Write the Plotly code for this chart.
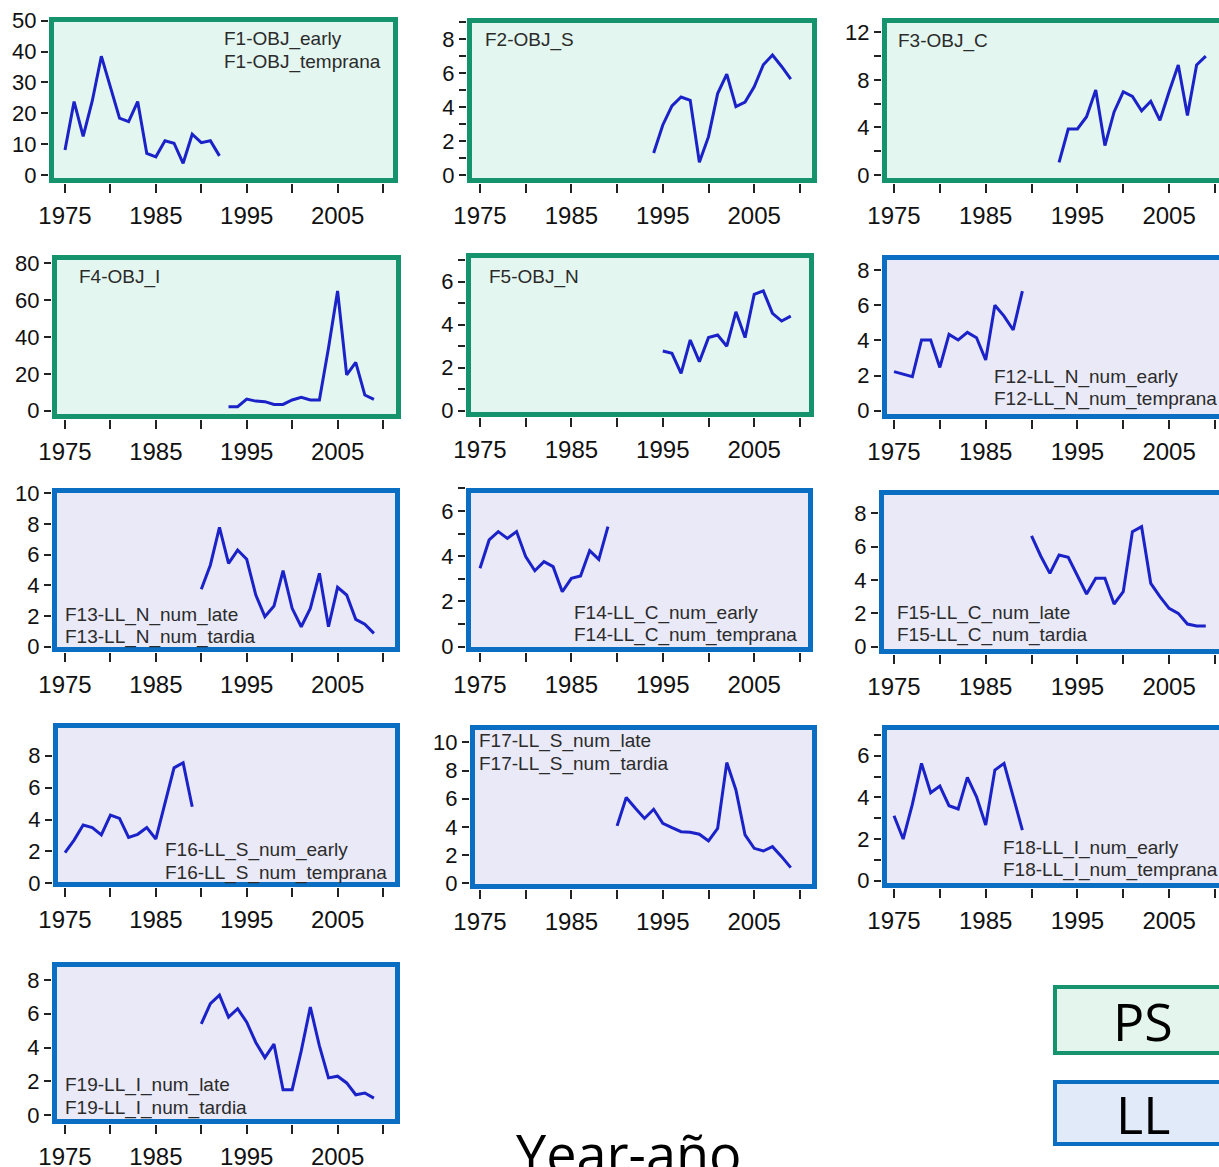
import plotly.graph_objects as go

W, H = 1219, 1167

# ---- data -------------------------------------------------------------
years_1975_1989 = [1975, 1976, 1977, 1978, 1979, 1980, 1981, 1982, 1983, 1984,
                   1985, 1986, 1987, 1988, 1989]
years_1975_1992 = [1975, 1976, 1977, 1978, 1979, 1980, 1981, 1982, 1983, 1984,
                   1985, 1986, 1987, 1988, 1989, 1990, 1991, 1992]
years_1990_2009 = [1990, 1991, 1992, 1993, 1994, 1995, 1996, 1997, 1998, 1999,
                   2000, 2001, 2002, 2003, 2004, 2005, 2006, 2007, 2008, 2009]
years_1993_2009 = [1993, 1994, 1995, 1996, 1997, 1998, 1999, 2000, 2001, 2002,
                   2003, 2004, 2005, 2006, 2007, 2008, 2009]
years_1994_2009 = [1994, 1995, 1996, 1997, 1998, 1999, 2000, 2001, 2002, 2003,
                   2004, 2005, 2006, 2007, 2008, 2009]
years_1995_2009 = [1995, 1996, 1997, 1998, 1999, 2000, 2001, 2002, 2003, 2004,
                   2005, 2006, 2007, 2008, 2009]

f1_obj_early = [8.1, 23.8, 12.5, 24.0, 38.5, 28.0, 18.4, 17.3, 23.8, 7.0,
                5.9, 11.1, 10.3, 3.8, 13.2, 10.5, 11.1, 6.2]
f2_obj_s = [1.3, 2.95, 4.07, 4.6, 4.4, 0.75, 2.26, 4.8, 5.95, 4.03,
            4.3, 5.2, 6.5, 7.07, 6.4, 5.65]
f3_obj_c = [1.07, 3.87, 3.87, 4.9, 7.15, 2.47, 5.3, 7.0, 6.6, 5.4,
            6.2, 4.6, 7.0, 9.25, 5.0, 9.25, 10.0]
f4_obj_i = [2.2, 2.2, 6.3, 5.2, 4.9, 3.4, 3.4, 5.8, 7.2, 5.8,
            5.8, 34.0, 65.0, 19.4, 26.2, 8.5, 6.2]
f5_obj_n = [2.78, 2.67, 1.74, 3.29, 2.28, 3.4, 3.52, 3.0, 4.6, 3.4,
            5.41, 5.57, 4.53, 4.17, 4.4]
f12_ll_n_early = [2.22, 2.08, 1.93, 4.02, 4.02, 2.46, 4.34, 4.02, 4.45, 4.15,
                  2.88, 6.0, 5.38, 4.59, 6.8]
f13_ll_n_late = [3.74, 5.33, 7.78, 5.43, 6.3, 5.7, 3.37, 1.96, 2.65, 4.96,
                 2.5, 1.3, 2.5, 4.78, 1.3, 3.87, 3.37, 1.78, 1.46, 0.87]
f14_ll_c_early = [3.47, 4.72, 5.09, 4.79, 5.09, 3.98, 3.36, 3.76, 3.54, 2.43,
                  3.02, 3.13, 4.25, 3.86, 5.31]
f15_ll_c_late = [6.64, 5.44, 4.4, 5.5, 5.36, 4.3, 3.16, 4.1, 4.1, 2.56,
                 3.3, 6.9, 7.2, 3.8, 3.0, 2.3, 2.0, 1.36, 1.24, 1.24]
f16_ll_s_early = [1.92, 2.71, 3.65, 3.49, 3.03, 4.28, 4.07, 2.88, 3.07, 3.49,
                  2.78, 5.11, 7.24, 7.56, 4.8]
f17_ll_s_late = [4.07, 6.08, 5.32, 4.6, 5.25, 4.26, 3.95, 3.66, 3.62, 3.48,
                 3.0, 3.9, 8.56, 6.62, 3.43, 2.48, 2.29, 2.6, 1.89, 1.11]
f18_ll_i_early = [3.12, 2.0, 3.66, 5.63, 4.22, 4.54, 3.6, 3.44, 4.96, 4.03,
                  2.67, 5.31, 5.63, 4.03, 2.43]
f19_ll_i_late = [5.4, 6.6, 7.1, 5.8, 6.3, 5.5, 4.3, 3.4, 4.2, 1.5,
                 1.5, 3.8, 6.4, 4.1, 2.2, 2.3, 1.9, 1.2, 1.3, 1.0]

x_tick_labels = ["1975", "1985", "1995", "2005"]
group_labels = ["PS", "LL"]
axis_title = "Year-año"

# ---- styling ----------------------------------------------------------
LINE = "#1a22c8"
STYLE = {
    "PS": dict(fill="#e3f6ef", border="#14936c"),
    "LL": dict(fill="#e9e9f7", border="#0a6fc2"),
}
TXT = "#2b2b2b"
FONT = "Liberation Sans, Arial, sans-serif"

# column x-scales: pixel of 1975 and pixels per year
COLS = [(65.0, 9.086), (480.0, 9.14), (894.0, 9.17)]

# panel layout: box in pixels (x0, x1, y0, y1), y-scale as (value, pixel) pairs,
# labelled y ticks (step, top value) and optional minor tick step
panels = [
    dict(x=years_1975_1992, y=f1_obj_early, kind="PS", col=0, box=(49, 398, 17, 183),
         ys=((0, 175), (50, 20.7)), dtick=10, ytop=50, minor=None,
         text=["F1-OBJ_early", "F1-OBJ_temprana"], tpos=(222, 39, 23)),
    dict(x=years_1994_2009, y=f2_obj_s, kind="PS", col=1, box=(467, 817, 18, 183),
         ys=((0, 175), (8, 39.3)), dtick=2, ytop=8, minor=1,
         text=["F2-OBJ_S"], tpos=(483, 40, 23)),
    dict(x=years_1993_2009, y=f3_obj_c, kind="PS", col=2, box=(882, 1219, 18, 183),
         ys=((0, 175), (12, 32.3)), dtick=4, ytop=12, minor=2,
         text=["F3-OBJ_C"], tpos=(896, 41, 23)),
    dict(x=years_1993_2009, y=f4_obj_i, kind="PS", col=0, box=(52, 401, 255, 419),
         ys=((0, 410.7), (80, 263.3)), dtick=20, ytop=80, minor=None,
         text=["F4-OBJ_I"], tpos=(77, 277, 23)),
    dict(x=years_1995_2009, y=f5_obj_n, kind="PS", col=1, box=(466, 814, 253, 417),
         ys=((0, 410.7), (6, 281.7)), dtick=2, ytop=6, minor=1,
         text=["F5-OBJ_N"], tpos=(487, 277, 23)),
    dict(x=years_1975_1989, y=f12_ll_n_early, kind="LL", col=2, box=(882, 1219, 255, 419),
         ys=((0, 410.7), (8, 270)), dtick=2, ytop=8, minor=None,
         text=["F12-LL_N_num_early", "F12-LL_N_num_temprana"], tpos=(992, 377, 22)),
    dict(x=years_1990_2009, y=f13_ll_n_late, kind="LL", col=0, box=(52, 400, 488, 652),
         ys=((0, 646.7), (10, 493.3)), dtick=2, ytop=10, minor=None,
         text=["F13-LL_N_num_late", "F13-LL_N_num_tardia"], tpos=(63, 615, 22)),
    dict(x=years_1975_1989, y=f14_ll_c_early, kind="LL", col=1, box=(466, 813, 488, 652),
         ys=((0, 646.7), (6, 511)), dtick=2, ytop=6, minor=1,
         text=["F14-LL_C_num_early", "F14-LL_C_num_temprana"], tpos=(572, 613, 22)),
    dict(x=years_1990_2009, y=f15_ll_c_late, kind="LL", col=2, box=(879, 1219, 490, 654),
         ys=((0, 646.7), (8, 513.3)), dtick=2, ytop=8, minor=None,
         text=["F15-LL_C_num_late", "F15-LL_C_num_tardia"], tpos=(895, 613, 22)),
    dict(x=years_1975_1989, y=f16_ll_s_early, kind="LL", col=0, box=(53, 400, 723, 887),
         ys=((0, 883.3), (8, 755.7)), dtick=2, ytop=8, minor=None,
         text=["F16-LL_S_num_early", "F16-LL_S_num_temprana"], tpos=(163, 850, 23)),
    dict(x=years_1990_2009, y=f17_ll_s_late, kind="LL", col=1, box=(470, 817, 725, 889),
         ys=((0, 883.3), (10, 742.3)), dtick=2, ytop=10, minor=None,
         text=["F17-LL_S_num_late", "F17-LL_S_num_tardia"], tpos=(477, 741, 23)),
    dict(x=years_1975_1989, y=f18_ll_i_early, kind="LL", col=2, box=(882, 1219, 725, 888),
         ys=((0, 880.7), (6, 755.7)), dtick=2, ytop=6, minor=1,
         text=["F18-LL_I_num_early", "F18-LL_I_num_temprana"], tpos=(1001, 848, 22)),
    dict(x=years_1990_2009, y=f19_ll_i_late, kind="LL", col=0, box=(52, 400, 962, 1124),
         ys=((0, 1115), (8, 980)), dtick=2, ytop=8, minor=None,
         text=["F19-LL_I_num_late", "F19-LL_I_num_tardia"], tpos=(63, 1085, 23)),
]


def px(xp):
    return xp / W


def py(yp):
    return 1 - yp / H


fig = go.Figure()
shapes, annotations = [], []
layout_axes = {}
TICK = dict(ticks="outside", tickwidth=2, tickcolor="#222")

for i, p in enumerate(panels, start=1):
    sfx = "" if i == 1 else str(i)
    bx0, bx1, by0, by1 = p["box"]
    x75, ppy = COLS[p["col"]]
    (v0, p0), (v1, p1) = p["ys"]
    ppu = (p0 - p1) / (v1 - v0)
    xr = [1975 + (bx0 - x75) / ppy, 1975 + (bx1 - x75) / ppy]
    yr = [v0 - (by1 - p0) / ppu, v0 + (p0 - by0) / ppu]

    fig.add_trace(go.Scatter(
        x=p["x"], y=p["y"], mode="lines", xaxis="x" + sfx, yaxis="y" + sfx,
        line=dict(color=LINE, width=3), showlegend=False, hoverinfo="skip"))

    xa = dict(domain=[px(bx0), px(bx1)], range=xr, anchor="y" + sfx, automargin=False,
              showgrid=False, zeroline=False, showline=False,
              tickmode="array", tickvals=[1975, 1985, 1995, 2005], ticktext=x_tick_labels,
              ticklen=9, ticklabelstandoff=2, **TICK,
              tickfont=dict(family=FONT, size=24, color="#111"),
              minor=dict(tickmode="array", tickvals=[1980, 1990, 2000, 2010],
                         ticklen=9, **TICK))
    yvals = [v for v in range(0, p["ytop"] + 1, p["dtick"])]
    ya = dict(domain=[py(by1), py(by0)], range=yr, anchor="x" + sfx, automargin=False,
              showgrid=False, zeroline=False, showline=False,
              tickmode="array", tickvals=yvals, ticklen=7, **TICK,
              tickfont=dict(family=FONT, size=22, color="#111"))
    if p["minor"]:
        ya["minor"] = dict(tick0=0, dtick=p["minor"], ticklen=7, **TICK)
    layout_axes["xaxis" + sfx] = xa
    layout_axes["yaxis" + sfx] = ya

    st = STYLE[p["kind"]]
    right = bx1 if bx1 < W else 1240
    shapes.append(dict(type="rect", xref="paper", yref="paper", layer="below",
                       x0=px(bx0), x1=px(right), y0=py(by1), y1=py(by0),
                       fillcolor=st["fill"], line=dict(width=0)))
    shapes.append(dict(type="rect", xref="paper", yref="paper", layer="above",
                       x0=px(bx0 + 2.5), x1=px(right - 2.5), y0=py(by1 - 2.5), y1=py(by0 + 2.5),
                       fillcolor="rgba(0,0,0,0)", line=dict(width=5, color=st["border"])))

    tx, ty, dy = p["tpos"]
    for k, t in enumerate(p["text"]):
        annotations.append(dict(xref="paper", yref="paper", x=px(tx), y=py(ty + k * dy),
                                xanchor="left", yanchor="middle", showarrow=False, text=t,
                                font=dict(family=FONT, size=19, color=TXT)))

# group key boxes
key_boxes = [("PS", 985, 1055), ("LL", 1080, 1146)]
key_fill = {"PS": "#e3f5ec", "LL": "#e1eaf8"}
for name, y0, y1 in key_boxes:
    shapes.append(dict(type="rect", xref="paper", yref="paper", layer="above",
                       x0=px(1055), x1=px(1240), y0=py(y1 - 2), y1=py(y0 + 2),
                       fillcolor=key_fill[name],
                       line=dict(width=4, color=STYLE[name]["border"])))
    annotations.append(dict(xref="paper", yref="paper", x=px(1143), y=py((y0 + y1) / 2),
                            xanchor="center", yanchor="middle", showarrow=False,
                            text=group_labels[group_labels.index(name)],
                            font=dict(family="Open Sans, sans-serif", size=52, color="#000")))

annotations.append(dict(xref="paper", yref="paper", x=px(629), y=py(1153),
                        xanchor="center", yanchor="middle", showarrow=False, text=axis_title,
                        font=dict(family="Open Sans, sans-serif", size=54, color="#000")))

fig.update_layout(
    width=W, height=H, margin=dict(l=0, r=0, t=0, b=0, autoexpand=False),
    paper_bgcolor="white", plot_bgcolor="rgba(0,0,0,0)",
    shapes=shapes, annotations=annotations, **layout_axes)

fig.write_html("out.html")
